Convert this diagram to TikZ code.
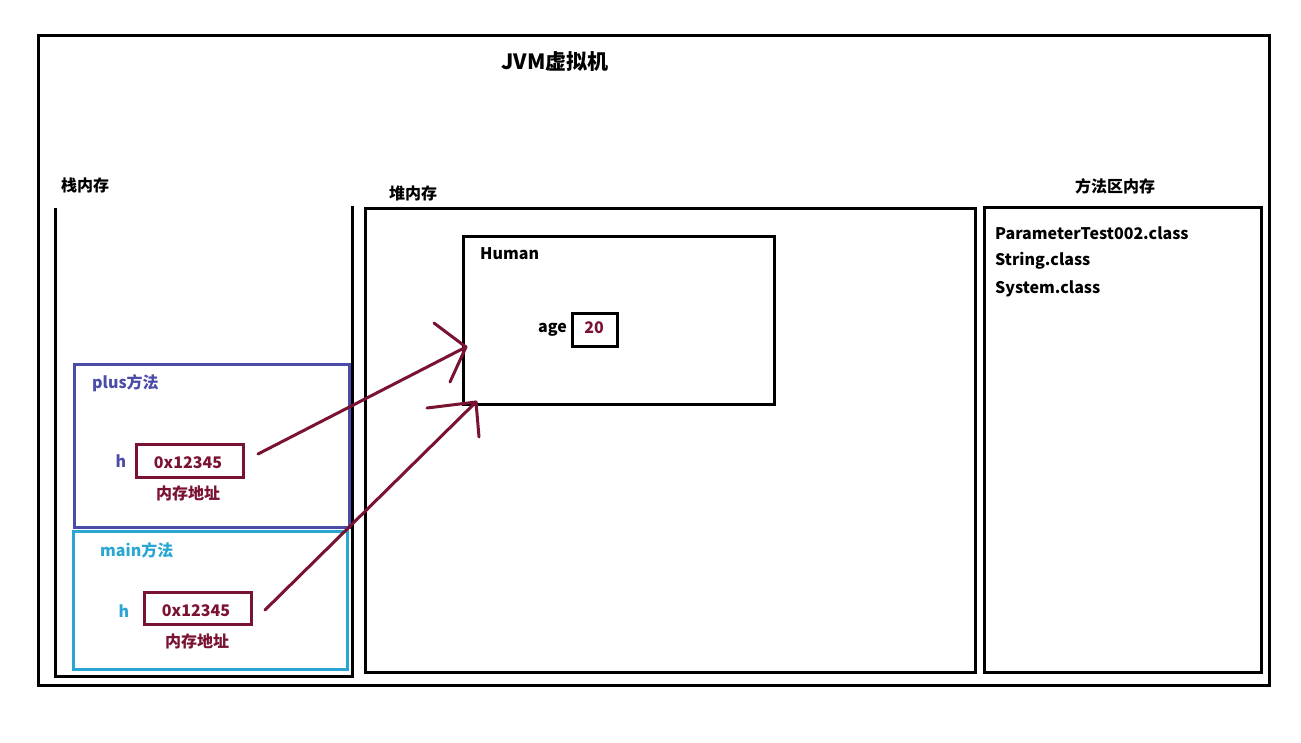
\documentclass[tikz,border=0pt]{standalone}
\usepackage{fontspec}
\setmainfont{Noto Sans CJK SC}
\usetikzlibrary{arrows.meta}
\definecolor{plusblue}{HTML}{4B4BA8}
\definecolor{maincyan}{HTML}{2AA6D2}
\definecolor{ptr}{HTML}{7A1232}
\tikzset{
  box/.style={draw, line width=3pt, inner sep=0pt, anchor=north west},
  lbl/.style={font=\bfseries\fontsize{16}{19}\selectfont, inner sep=0pt},
  ptrline/.style={draw=ptr, line width=3pt, line cap=round}
}
\begin{document}
\begin{tikzpicture}[x=1pt,y=-1pt]
\useasboundingbox[fill=white] (0,0) rectangle (1301,742);
% outer JVM box
\node[box, minimum width=1231pt, minimum height=650pt] (jvm) at (37,34) {};
\node[lbl, font=\bfseries\fontsize{21}{25}\selectfont] (title) at (555,62) {JVM虚拟机};
% stack (open top)
\coordinate (stl) at (55,208);
\coordinate (str) at (352,206);
\draw[line width=3pt] (stl) -- (55,676) -- (352,676) -- (str);
\node[lbl] (stacklbl) at (85,185) {栈内存};
% heap
\node[box, minimum width=610pt, minimum height=464pt] (heap) at (364,207) {};
\node[lbl] (heaplbl) at (413,193) {堆内存};
% method area
\node[box, minimum width=277pt, minimum height=465pt] (method) at (983,206) {};
\node[lbl] (methodlbl) at (1115,186) {方法区内存};
\node[lbl, anchor=west] (c1) at (995,233) {ParameterTest002.class};
\node[lbl, anchor=west] (c2) at (995,261) {String.class};
\node[lbl, anchor=west] (c3) at (995,289) {System.class};
% Human object
\node[box, minimum width=311pt, minimum height=168pt] (human) at (462,235) {};
\node[lbl, anchor=west] (humanlbl) at (480,254) {Human};
\node[lbl, anchor=east] (agelbl) at (567,330) {age};
\node[box, minimum width=45pt, minimum height=33pt] (agebox) at (571,312) {};
\node[lbl, text=ptr] (ageval) at (594,328) {20};
% plus frame
\node[box, draw=plusblue, line width=2.5pt, minimum width=275pt, minimum height=163pt] (plus) at (73,363) {};
\node[lbl, anchor=west, text=plusblue] (pluslbl) at (92,383) {plus方法};
\node[lbl, text=plusblue] (ph) at (121,461) {h};
\node[box, draw=ptr, minimum width=107pt, minimum height=33pt] (paddr) at (135,443) {};
\node[lbl, text=ptr] (pval) at (188,463) {0x12345};
\node[lbl, text=ptr] (pnote) at (188,493) {内存地址};
% main frame
\node[box, draw=maincyan, line width=2.5pt, minimum width=274pt, minimum height=138pt] (main) at (72,530) {};
\node[lbl, anchor=west, text=maincyan] (mainlbl) at (100,550) {main方法};
\node[lbl, text=maincyan] (mh) at (124,611) {h};
\node[box, draw=ptr, minimum width=107pt, minimum height=32pt] (maddr) at (143,591) {};
\node[lbl, text=ptr] (mval) at (196,611) {0x12345};
\node[lbl, text=ptr] (mnote) at (197,641) {内存地址};
% pointers
\coordinate (s1) at (258,454);
\coordinate (t1) at (466,347);
\coordinate (s2) at (265,610);
\coordinate (t2) at (476,402);
\draw[ptrline] (s1) -- (t1);
\draw[ptrline] (t1) -- ++(-32,-24);
\draw[ptrline] (t1) -- ++(-16,35);
\draw[ptrline] (s2) -- (t2);
\draw[ptrline] (t2) -- ++(-49,6);
\draw[ptrline] (t2) -- ++(3,35);
\end{tikzpicture}
\end{document}
